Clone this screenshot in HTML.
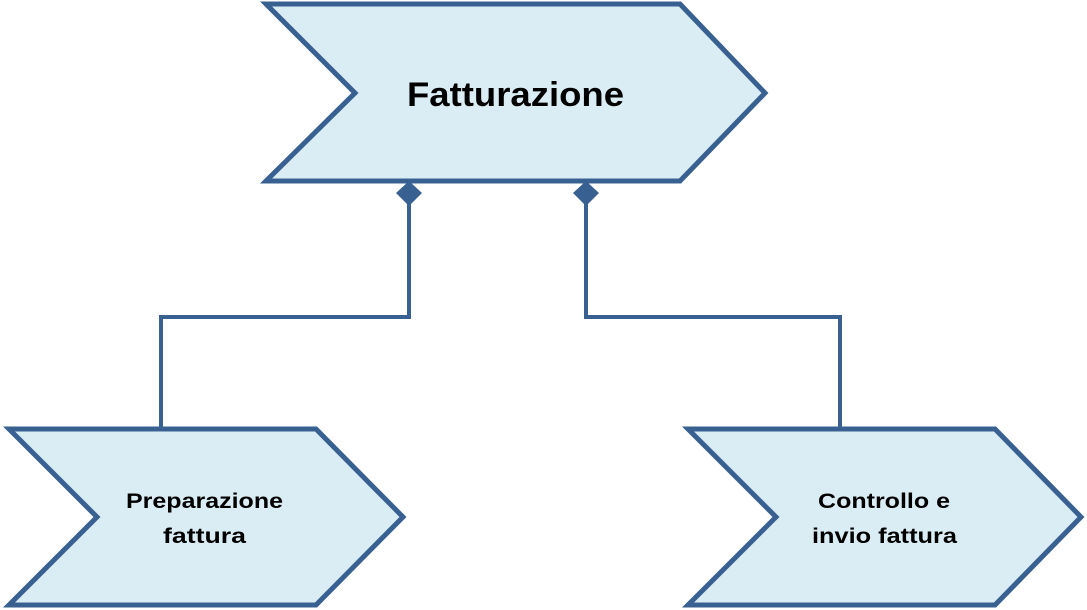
<!DOCTYPE html>
<html><head><meta charset="utf-8"><style>
html,body{margin:0;padding:0;background:#fff;}
svg{display:block;}
text{font-family:"Liberation Sans",sans-serif;font-weight:bold;fill:#000;}
</style></head><body>
<svg width="1087" height="610" viewBox="0 0 1087 610" xmlns="http://www.w3.org/2000/svg">
<g fill="#dbedf4" stroke="#386192" stroke-width="5" stroke-linejoin="miter">
<polygon points="266,4 680,4 765,93 680,181 266,181 355,93"/>
<polygon points="9,429 316,429 403,517 316,605 9,605 97,517"/>
<polygon points="688,429 995,429 1081,517 995,605 688,605 776,517"/>
</g>
<g fill="none" stroke="#386192" stroke-width="4">
<polyline points="409,200 409,317 161,317 161,429"/>
<polyline points="586,200 586,317 840,317 840,429"/>
</g>
<g fill="#386192">
<polygon points="409,181 422,193 409,206 396,193"/>
<polygon points="586,181 599,193 586,206 573,193"/>
</g>
<text x="407" y="106" font-size="34" textLength="217" lengthAdjust="spacingAndGlyphs">Fatturazione</text>
<text x="126" y="508" font-size="21" textLength="157" lengthAdjust="spacingAndGlyphs">Preparazione</text>
<text x="163" y="543" font-size="21" textLength="83" lengthAdjust="spacingAndGlyphs">fattura</text>
<text x="818" y="508" font-size="21" textLength="132" lengthAdjust="spacingAndGlyphs">Controllo e</text>
<text x="812" y="543" font-size="21" textLength="145" lengthAdjust="spacingAndGlyphs">invio fattura</text>
</svg>
</body></html>
